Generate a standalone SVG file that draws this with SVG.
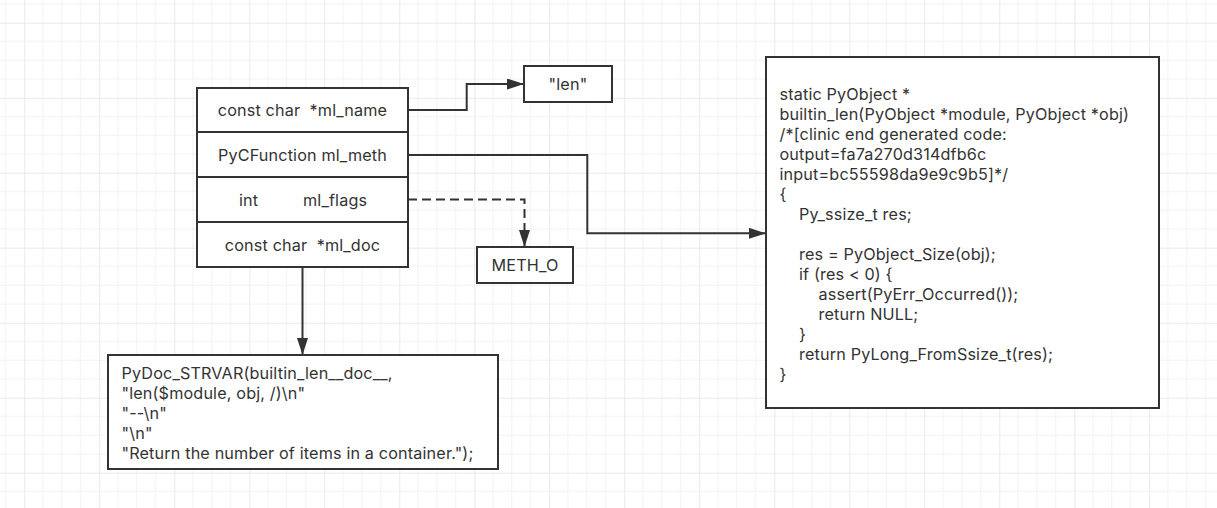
<svg xmlns="http://www.w3.org/2000/svg" width="1217" height="508" viewBox="0 0 1217 508">
<style>
.box{fill:#fff;stroke:#333;stroke-width:2}
.t{font-family:Inter,"Liberation Sans",sans-serif;font-size:16.2px;letter-spacing:0.15px;fill:#333}
.c{text-anchor:middle}
.ln{fill:none;stroke:#333;stroke-width:2}
.dash{stroke-dasharray:9 5}
</style>
<defs>
<pattern id="grid" x="24.3" y="22.7" width="75" height="75" patternUnits="userSpaceOnUse">
<path d="M18.75,0V75M37.5,0V75M56.25,0V75M0,18.75H75M0,37.5H75M0,56.25H75" stroke="#f2f2f2" stroke-width="1" fill="none"/>
<path d="M0,0V75M0,0H75" stroke="#e4e4e4" stroke-width="1.5" fill="none"/>
</pattern>
<marker id="arr" viewBox="0 0 17 11" refX="17" refY="5.5" markerWidth="17" markerHeight="11" markerUnits="userSpaceOnUse" orient="auto">
<path d="M0,0L17,5.5L0,11z" fill="#333"/>
</marker>
</defs>
<rect width="1217" height="508" fill="#fff"/>
<rect width="1217" height="508" fill="url(#grid)"/>

<g id="connectors">
<path class="ln" d="M408,110H466.7V84H524" marker-end="url(#arr)"/>
<path class="ln" d="M408,155H587.3V233.3H766" marker-end="url(#arr)"/>
<path class="ln dash" d="M408,199.5H524.5V247" marker-end="url(#arr)"/>
<path class="ln" d="M302.5,267V355" marker-end="url(#arr)"/>
</g>

<g id="struct">
<rect class="box" x="197" y="88" width="211" height="179"/>
<path class="ln" d="M197,132H408M197,177H408M197,222H408"/>
<text class="t c" x="302.5" y="116" xml:space="preserve">const char  *ml_name</text>
<text class="t c" x="302.5" y="161">PyCFunction ml_meth</text>
<text class="t" y="206"><tspan x="239">int</tspan><tspan x="303">ml_flags</tspan></text>
<text class="t c" x="302.5" y="251" xml:space="preserve">const char  *ml_doc</text>
</g>

<g id="len">
<rect class="box" x="524" y="66" width="88" height="36"/>
<text class="t c" x="568" y="90">"len"</text>
</g>

<g id="meth_o">
<rect class="box" x="477" y="247" width="96" height="36"/>
<text class="t c" x="525" y="271">METH_O</text>
</g>

<g id="doc">
<rect class="box" x="108" y="355" width="390" height="114"/>
<text class="t" x="121.5" y="379">PyDoc_STRVAR(builtin_len__doc__,</text>
<text class="t" x="121.5" y="399">"len($module, obj, /)\n"</text>
<text class="t" x="121.5" y="419">"--\n"</text>
<text class="t" x="121.5" y="439">"\n"</text>
<text class="t" x="121.5" y="459">"Return the number of items in a container.");</text>
</g>

<g id="code">
<rect class="box" x="766" y="57" width="393" height="351"/>
<text class="t" x="779.5" y="100">static PyObject *</text>
<text class="t" x="779.5" y="120">builtin_len(PyObject *module, PyObject *obj)</text>
<text class="t" x="779.5" y="140">/*[clinic end generated code:</text>
<text class="t" x="779.5" y="160">output=fa7a270d314dfb6c</text>
<text class="t" x="779.5" y="180">input=bc55598da9e9c9b5]*/</text>
<text class="t" x="779.5" y="200">{</text>
<text class="t" x="799" y="220">Py_ssize_t res;</text>
<text class="t" x="799" y="260">res = PyObject_Size(obj);</text>
<text class="t" x="799" y="280">if (res &lt; 0) {</text>
<text class="t" x="818.5" y="300">assert(PyErr_Occurred());</text>
<text class="t" x="818.5" y="320">return NULL;</text>
<text class="t" x="799" y="340">}</text>
<text class="t" x="799" y="360">return PyLong_FromSsize_t(res);</text>
<text class="t" x="779.5" y="380">}</text>
</g>
</svg>
